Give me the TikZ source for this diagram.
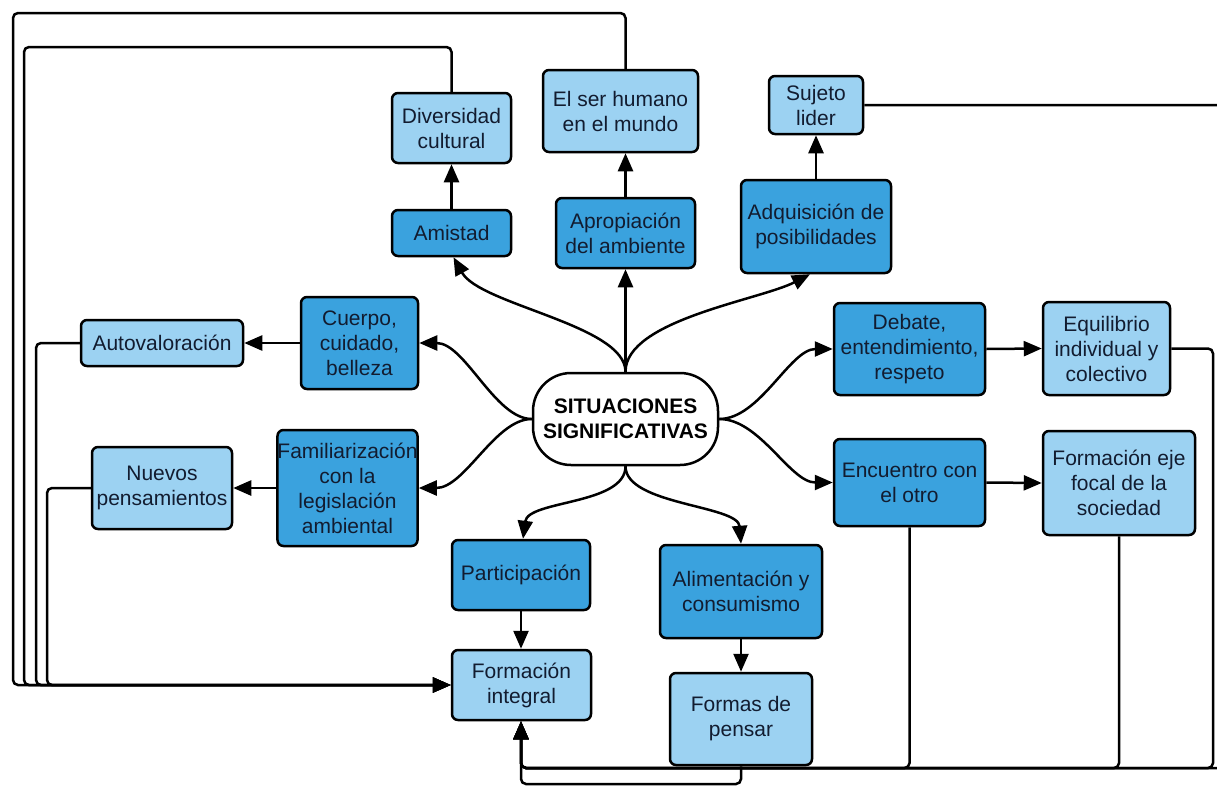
\documentclass[tikz,border=0pt]{standalone}
\usepackage{fontspec}
\setmainfont{Liberation Sans}
\usetikzlibrary{arrows.meta}
\definecolor{dk}{RGB}{58,162,222}
\definecolor{lt}{RGB}{156,210,242}
\definecolor{tx}{RGB}{18,28,48}
\begin{document}
\begin{tikzpicture}[x=1pt,y=-1pt,
  box/.style={draw=black, line width=2.5, rounded corners=6, align=center, text=tx,
    font=\fontsize{21}{25}\selectfont, inner sep=0pt},
  dkbox/.style={box, fill=dk},
  ltbox/.style={box, fill=lt},
  conn/.style={line width=2.5, -{Triangle[length=18,width=15]}},
  route/.style={conn, rounded corners=5}]
\useasboundingbox (0,0) rectangle (1217,787);
\clip (0,0) rectangle (1217,787);
% nodes
\node[ltbox, minimum width=119, minimum height=70] (div) at (451.5,128) {Diversidad\\cultural};
\node[ltbox, minimum width=155, minimum height=82] (ser) at (620.5,111) {El ser humano\\en el mundo};
\node[ltbox, minimum width=94, minimum height=58] (suj) at (816,105) {Sujeto\\lider};
\node[dkbox, minimum width=119, minimum height=46] (ami) at (451.5,233) {Amistad};
\node[dkbox, minimum width=139, minimum height=70] (apr) at (625.5,233) {Apropiación\\del ambiente};
\node[dkbox, minimum width=150, minimum height=93] (adq) at (816,226.5) {Adquisición de\\posibilidades};
\node[dkbox, minimum width=117, minimum height=92] (cue) at (359.5,343) {Cuerpo,\\cuidado,\\belleza};
\node[ltbox, minimum width=162, minimum height=46] (aut) at (162,343) {Autovaloración};
\node[box, fill=white, rounded corners=38, minimum width=185, minimum height=92,
  font=\fontsize{21}{25}\selectfont\bfseries, text=black] (cen) at (625.5,419) {SITUACIONES\\SIGNIFICATIVAS};
\node[dkbox, minimum width=151, minimum height=92] (deb) at (909.5,349) {Debate,\\entendimiento,\\respeto};
\node[ltbox, minimum width=127, minimum height=93] (equ) at (1106.5,348.5) {Equilibrio\\individual y\\colectivo};
\node[dkbox, minimum width=139, minimum height=116] (fam) at (347.5,488) {Familiarización\\con la\\legislación\\ambiental};
\node[ltbox, minimum width=140, minimum height=82] (nue) at (162,488) {Nuevos\\pensamientos};
\node[dkbox, minimum width=151, minimum height=87] (enc) at (909.5,482.5) {Encuentro con\\el otro};
\node[ltbox, minimum width=152, minimum height=104] (foc) at (1119,483) {Formación eje\\focal de la\\sociedad};
\node[dkbox, minimum width=138, minimum height=70] (par) at (521,575) {Participación};
\node[dkbox, minimum width=162, minimum height=93] (ali) at (741,591.5) {Alimentación y\\consumismo};
\node[ltbox, minimum width=139, minimum height=70] (fin) at (521.5,685) {Formación\\integral};
\node[ltbox, minimum width=142, minimum height=92] (fdp) at (741,719) {Formas de\\pensar};
% curved connectors from the centre
\draw[conn] (cen.north) .. controls (625.5,325) and (480,305) .. ([xshift=2]ami.south);
\draw[conn] (cen.north) -- (cen.north |- apr.south);
\draw[conn] (cen.north) .. controls (625.5,320) and (760,300) .. ([xshift=-6]adq.south);
\draw[conn] (cen.west) .. controls (495,419) and (465,343) .. (cue.east);
\draw[conn] (cen.west) .. controls (495,419) and (465,488) .. (fam.east);
\draw[conn] (cen.east) .. controls (760,419) and (790,349) .. (deb.west);
\draw[conn] (cen.east) .. controls (760,419) and (790,482.5) .. (enc.west);
\draw[conn] (cen.south) .. controls (625.5,505) and (528,500) .. ([xshift=2]par.north);
\draw[conn] (cen.south) .. controls (625.5,505) and (738,505) .. (ali.north);
% straight connectors
\draw[conn] (ami.north) -- (div.south);
\draw[conn] (apr.north) -- (apr.north |- ser.south);
\draw[conn] (adq.north) -- (suj.south);
\draw[conn] (cue.west) -- (aut.east);
\draw[conn] (fam.west) -- (nue.east);
\draw[conn] (deb.east) -- (equ.west);
\draw[conn] (enc.east) -- (foc.west);
\draw[conn] (par.south) -- (par.south |- fin.north);
\draw[conn] (ali.south) -- (fdp.north);
% feedback routes into Formación integral (left)
\draw[route] (apr.north |- ser.north) -- (625.5,13) -- (13,13) -- (13,685) -- (fin.west);
\draw[route] (div.north) -- (451.5,47) -- (24,47) -- (24,685) -- (fin.west);
\draw[route] (aut.west) -- (36,343) -- (36,685) -- (fin.west);
\draw[route] (nue.west) -- (47,488) -- (47,685) -- (fin.west);
% feedback routes into Formación integral (bottom)
\draw[route] (suj.east) -- (1225,105) -- (1225,768) -- (521,768) -- (par.south |- fin.south);
\draw[route] (equ.east) -- (1213,348.5) -- (1213,768) -- (521,768) -- (par.south |- fin.south);
\draw[route] (foc.south) -- (1119,768) -- (521,768) -- (par.south |- fin.south);
\draw[route] (enc.south) -- (909.5,768) -- (521,768) -- (par.south |- fin.south);
\draw[route] (fdp.south) -- (741,784) -- (521,784) -- (par.south |- fin.south);
\end{tikzpicture}
\end{document}
